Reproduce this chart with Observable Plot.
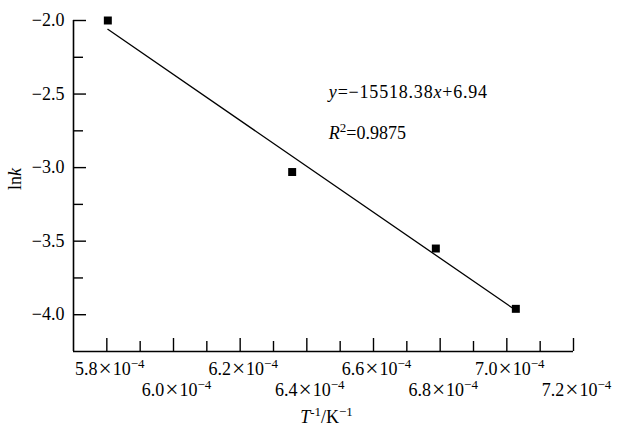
<!DOCTYPE html>
<html>
<head>
<meta charset="utf-8">
<script src="https://cdn.jsdelivr.net/npm/d3@7"></script>
<script src="https://cdn.jsdelivr.net/npm/@observablehq/plot@0.6"></script>
<style>
  html, body { margin: 0; padding: 0; background: #fff; }
</style>
</head>
<body>
<div id="chart"></div>
<script>
// ---- data ----
const invT = [5.803e-4, 6.356e-4, 6.787e-4, 7.027e-4];   // T^-1 / K^-1
const lnk  = [-2.00, -3.03, -3.55, -3.96];
const fitX = [5.803e-4, 7.027e-4];                        // ends of the fitted line
const fitY = [-2.06, -3.97];
const xMajorTicks = [5.8e-4, 6.0e-4, 6.2e-4, 6.4e-4, 6.6e-4, 6.8e-4, 7.0e-4, 7.2e-4];
const xMinorTicks = [5.9e-4, 6.1e-4, 6.3e-4, 6.5e-4, 6.7e-4, 6.9e-4, 7.1e-4];
const xLabelsRow1 = [5.8e-4, 6.2e-4, 6.6e-4, 7.0e-4];
const xLabelsRow2 = [6.0e-4, 6.4e-4, 6.8e-4, 7.2e-4];
const yMajorTicks = [-2.0, -2.5, -3.0, -3.5, -4.0];
const yMinorTicks = [-2.25, -2.75, -3.25, -3.75];
const xDomain = [5.7e-4, 7.2e-4];
const yDomain = [-4.25, -2.0];
const eqLine1 = "y=−15518.38x+6.94";
const eqLine2 = "R2=0.9875";
const xTitle = "T-1/K-1";
const yTitle = "lnk";

const points = invT.map((x, i) => ({x, y: lnk[i]}));
const fit = fitX.map((x, i) => ({x, y: fitY[i]}));
const fmtX = d => (d * 1e4).toFixed(1) + "×10";

const chart = Plot.plot({
  width: 635,
  height: 433,
  marginLeft: 73,
  marginRight: 62,
  marginTop: 20,
  marginBottom: 82,
  style: {fontFamily: "'Liberation Serif', 'Times New Roman', serif", fontSize: "18px", color: "#000", background: "#fff"},
  x: {domain: xDomain},
  y: {domain: yDomain},
  marks: [
    // axis lines
    Plot.ruleX([xDomain[0]], {stroke: "#000", strokeWidth: 1.6}),
    Plot.ruleY([yDomain[0]], {stroke: "#000", strokeWidth: 1.6}),
    // inward ticks
    Plot.axisX({ticks: xMajorTicks, tickSize: -13, tickFormat: () => "", label: null, strokeWidth: 1.4}),
    Plot.axisX({ticks: xMinorTicks, tickSize: -10, tickFormat: () => "", label: null, strokeWidth: 1.4}),
    Plot.axisY({ticks: yMajorTicks, tickSize: -13, tickFormat: () => "", label: null, strokeWidth: 1.4}),
    Plot.axisY({ticks: yMinorTicks, tickSize: -10, tickFormat: () => "", label: null, strokeWidth: 1.4}),
    // y tick labels
    Plot.axisY({ticks: yMajorTicks, tickSize: 0, tickPadding: 9, tickFormat: d3.format(".1f"), label: null}),
    // x tick labels, two staggered rows
    Plot.text(xLabelsRow1, {x: d => d, text: fmtX, frameAnchor: "bottom", lineAnchor: "middle", dy: 18, dx: 3}),
    Plot.text(xLabelsRow2, {x: d => d, text: fmtX, frameAnchor: "bottom", lineAnchor: "middle", dy: 39, dx: 3}),
    // axis titles
    Plot.text([xTitle], {frameAnchor: "bottom", lineAnchor: "middle", dy: 66, dx: 3}),
    Plot.text([yTitle], {frameAnchor: "left", textAnchor: "middle", lineAnchor: "middle", rotate: -90, dx: -58, dy: -7}),
    // fitted line and points
    Plot.line(fit, {x: "x", y: "y", stroke: "#000", strokeWidth: 1.3}),
    Plot.dot(points, {x: "x", y: "y", symbol: "square", r: 4.5, fill: "#000", stroke: null}),
    // equation annotation
    Plot.text([eqLine1], {x: 6.466e-4, y: -2.487, textAnchor: "start"}),
    Plot.text([eqLine2], {x: 6.466e-4, y: -2.767, textAnchor: "start"})
  ]
});

document.getElementById("chart").appendChild(chart);

// ---- rich text (italics, superscripts, enlarged multiplication sign) ----
function rich(el, parts) {
  const sel = d3.select(el);
  sel.text(null);
  parts.forEach(p => {
    const ts = sel.append("tspan").text(p.t);
    if (p.i) ts.attr("font-style", "italic");
    if (p.s) ts.attr("baseline-shift", "super").attr("font-size", "0.72em");
    if (p.big) ts.attr("font-size", "1.3em").attr("dx", "1").attr("baseline-shift", "-1");
    if (p.after) ts.attr("dx", "1");
  });
}
d3.select(chart).selectAll("text").each(function () {
  const s = this.textContent;
  if (/×10$/.test(s)) {
    const [a, b] = s.split("×");
    rich(this, [{t: a}, {t: "×", big: true}, {t: b, after: true}, {t: "−4", s: true}]);
  }
  else if (s === xTitle) rich(this, [{t: "T", i: true}, {t: "-1", s: true}, {t: "/K"}, {t: "−1", s: true}]);
  else if (s === yTitle) rich(this, [{t: "ln"}, {t: "k", i: true}]);
  else if (s === eqLine1) { rich(this, [{t: "y", i: true}, {t: "=−15518.38"}, {t: "x", i: true}, {t: "+6.94"}]); this.setAttribute("letter-spacing", "0.8"); }
  else if (s === eqLine2) rich(this, [{t: "R", i: true}, {t: "2", s: true}, {t: "=0.9875"}]);
});
</script>
</body>
</html>
